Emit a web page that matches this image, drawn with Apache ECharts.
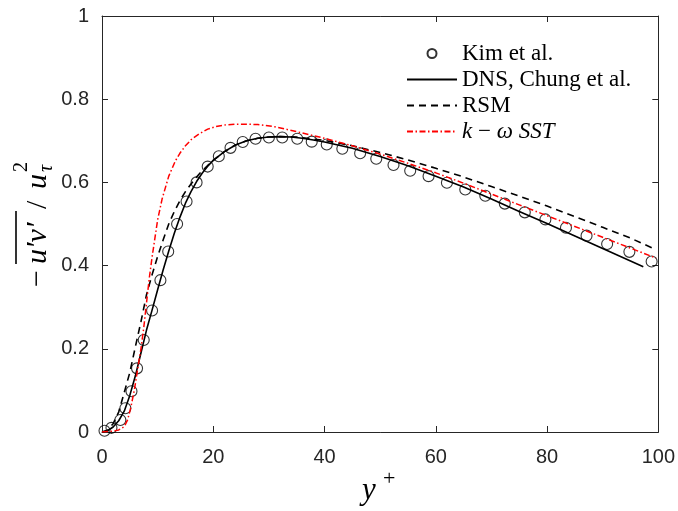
<!DOCTYPE html>
<html>
<head>
<meta charset="utf-8">
<script src="https://cdn.jsdelivr.net/npm/echarts@6/dist/echarts.min.js"></script>
<style>html,body{margin:0;padding:0;background:#fff}#c{width:678px;height:511px}</style>
</head>
<body>
<div id="c"></div>
<script>
// ---- data ----
var kimX = [0.45,1.7,3.3,4.2,5.3,6.3,7.5,9.0,10.5,11.9,13.5,15.2,17.0,19.0,21.0,23.1,25.3,27.6,30.0,32.4,35.1,37.7,40.4,43.2,46.4,49.3,52.4,55.4,58.7,62.0,65.3,68.9,72.4,76.0,79.7,83.4,87.1,90.8,94.8,98.8];
var kimY = [0.003,0.01,0.029,0.057,0.098,0.153,0.221,0.292,0.365,0.434,0.50,0.554,0.60,0.638,0.663,0.683,0.697,0.705,0.708,0.708,0.705,0.698,0.691,0.681,0.670,0.657,0.642,0.628,0.615,0.599,0.583,0.568,0.549,0.528,0.511,0.491,0.472,0.452,0.433,0.410];

var dnsX = [0,1,2,3,4,5,6,7,8,9,10,11,12,13,14,15,16,17,18,19,20,22,24,26,28,30,32,34,36,38,40,45,50,55,60,65,70,75,80,85,90,97.3];
var dnsY = [0,0.003,0.012,0.027,0.05,0.088,0.135,0.19,0.245,0.293,0.342,0.39,0.435,0.478,0.516,0.55,0.578,0.602,0.622,0.639,0.653,0.674,0.690,0.700,0.706,0.709,0.710,0.709,0.706,0.702,0.697,0.682,0.662,0.640,0.615,0.589,0.560,0.530,0.501,0.471,0.441,0.397];

var rsmX = [0,1,2,3,4,5,6,7,8,9,10,11,12,13,14,15,16,17,18,20,22,24,26,28,30,32,35,40,45,50,55,60,65,70,75,80,85,90,95,99.5];
var rsmY = [0,0.004,0.02,0.048,0.095,0.143,0.205,0.265,0.33,0.378,0.422,0.462,0.50,0.53,0.556,0.578,0.596,0.613,0.628,0.653,0.674,0.690,0.700,0.706,0.709,0.710,0.709,0.701,0.688,0.672,0.654,0.634,0.613,0.590,0.567,0.543,0.518,0.492,0.466,0.439];

var sstX = [0,1,2,3,4,4.6,5.2,5.8,6.4,7,7.5,8,8.5,9,9.5,10,10.8,12,13.2,14,15,16.2,17.4,19,20.4,22,24,26,28,31,35,40,45,50,55,60,65,70,75,80,85,90,95,99.6];
var sstY = [0,0.001,0.002,0.005,0.013,0.029,0.06,0.10,0.15,0.2,0.25,0.31,0.37,0.42,0.465,0.51,0.56,0.615,0.652,0.670,0.688,0.705,0.716,0.728,0.734,0.738,0.740,0.740,0.739,0.734,0.722,0.706,0.688,0.668,0.646,0.623,0.598,0.572,0.546,0.520,0.494,0.468,0.442,0.418];

var seriesNames = ['Kim et al.', 'DNS, Chung et al.', 'RSM', 'k − ω SST'];
var xTicks = {min: 0, max: 100, interval: 20};
var yTicks = {min: 0, max: 1, interval: 0.2};

function pairs(xs, ys) { return xs.map(function (x, i) { return [x, ys[i]]; }); }

var axisColor = '#262626';
var sans = '"Liberation Sans", Arial, sans-serif';
var serif = '"Liberation Serif", "Times New Roman", serif';

var chart = echarts.init(document.getElementById('c'), null, {renderer: 'canvas'});

function baseAxis(extra) {
  var a = {
    type: 'value',
    axisLine: {show: true, onZero: false, lineStyle: {color: axisColor, width: 1}},
    axisTick: {show: true, inside: true, length: 6, lineStyle: {color: axisColor}},
    splitLine: {show: false},
    axisLabel: {show: true, color: axisColor, fontFamily: sans, fontSize: 20}
  };
  for (var k in extra) a[k] = extra[k];
  return a;
}

function tstyle(text, font) {
  return {text: text, font: font, fill: '#000', textAlign: 'left', textVerticalAlign: 'middle', align: 'left', verticalAlign: 'middle'};
}

var option = {
  animation: false,
  backgroundColor: '#fff',
  grid: {left: 102, right: 18, top: 16, bottom: 79, containLabel: false},
  xAxis: [
    baseAxis({min: xTicks.min, max: xTicks.max, interval: xTicks.interval, position: 'bottom',
      axisLabel: {show: true, color: axisColor, fontFamily: sans, fontSize: 20, margin: 15}}),
    baseAxis({min: xTicks.min, max: xTicks.max, interval: xTicks.interval, position: 'top',
      axisLabel: {show: false}})
  ],
  yAxis: [
    baseAxis({min: yTicks.min, max: yTicks.max, interval: yTicks.interval, position: 'left',
      axisLabel: {show: true, color: axisColor, fontFamily: sans, fontSize: 20, margin: 13}}),
    baseAxis({min: yTicks.min, max: yTicks.max, interval: yTicks.interval, position: 'right',
      axisLabel: {show: false}})
  ],
  legend: {
    orient: 'vertical',
    left: 406,
    top: 42,
    padding: 0,
    itemWidth: 50,
    itemHeight: 9,
    itemGap: 3,
    itemTextGap: 6,
    data: [
      {name: seriesNames[0]},
      {name: seriesNames[1], itemStyle: {opacity: 0}},
      {name: seriesNames[2], itemStyle: {opacity: 0}},
      {name: seriesNames[3], itemStyle: {opacity: 0}}
    ],
    formatter: function (n) {
      if (n === seriesNames[3]) return '{i|k} − {i|ω} {i|SST}';
      return n;
    },
    textStyle: {
      fontFamily: serif, fontSize: 23, color: '#000', lineHeight: 22,
      rich: {i: {fontFamily: serif, fontStyle: 'italic', fontSize: 23, lineHeight: 22}}
    }
  },
  series: [
    {
      name: seriesNames[0], type: 'scatter', data: pairs(kimX, kimY),
      symbol: 'circle', symbolSize: 11,
      itemStyle: {color: 'rgba(255,255,255,0)', borderColor: '#000', borderWidth: 1.1},
      z: 2
    },
    {
      name: seriesNames[1], type: 'line', data: pairs(dnsX, dnsY),
      symbol: 'none', showSymbol: false, color: '#000',
      lineStyle: {color: '#000', width: 1.6, type: 'solid'}, z: 3
    },
    {
      name: seriesNames[2], type: 'line', data: pairs(rsmX, rsmY),
      symbol: 'none', showSymbol: false, color: '#000',
      lineStyle: {color: '#000', width: 1.6, type: [7, 5]}, z: 3
    },
    {
      name: seriesNames[3], type: 'line', data: pairs(sstX, sstY),
      symbol: 'none', showSymbol: false, color: '#ff0000',
      lineStyle: {color: '#ff0000', width: 1.5, type: [6, 2.5, 1.5, 2.5]}, z: 4
    }
  ],
  graphic: [
    {
      type: 'group', x: 47, y: 225, rotation: Math.PI / 2,
      children: [
        {type: 'text', x: -62, y: -9, style: tstyle('−', '30px ' + serif)},
        {type: 'text', x: -39, y: -9, style: tstyle('u′v′', 'italic 30px ' + serif)},
        {type: 'line', shape: {x1: -39, y1: -31, x2: 14, y2: -31}, style: {stroke: '#000', lineWidth: 1.6}},
        {type: 'text', x: 16, y: -9, style: tstyle('/', '30px ' + serif)},
        {type: 'text', x: 36, y: -9, style: tstyle('u', 'italic 30px ' + serif)},
        {type: 'text', x: 53, y: -25, style: tstyle('2', '20px ' + serif)},
        {type: 'text', x: 53, y: 0, style: tstyle('τ', 'italic 20px ' + serif)}
      ]
    },
    {type: 'text', x: 362, y: 491, style: tstyle('y', 'italic 31px ' + serif)},
    {type: 'text', x: 383, y: 479, style: tstyle('+', '22px ' + serif)}
  ]
};
chart.setOption(option);
</script>
</body>
</html>
